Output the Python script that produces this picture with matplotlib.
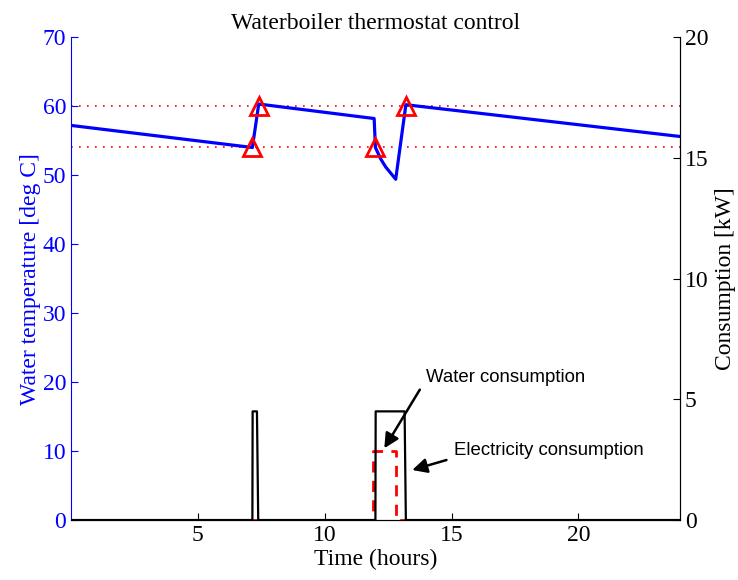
import numpy as np
import matplotlib
matplotlib.use("Agg")
from matplotlib import pyplot as plt

plt.rcParams['font.family'] = ['Liberation Serif', 'DejaVu Serif']
plt.rcParams['font.size'] = 17

# water temperature (deg C) over the day
t_temp = [0, 7.15, 7.4, 11.95, 12.0, 12.2, 12.4, 12.6, 12.8, 13.2, 24]
temp = [57.2, 54.0, 60.3, 58.2, 54.0, 52.4, 51.2, 50.3, 49.4, 60.2, 55.6]

# thermostat switching points
t_switch = [7.15, 7.4, 12.0, 13.2]
temp_switch = [54, 60, 54, 60]
t_low, t_high = 54, 60

# heater power (kW)
t_elec = [0, 7.15, 7.16, 7.33, 7.38, 12.0, 12.01, 13.15, 13.2, 24]
elec = [0, 0, 4.5, 4.5, 0, 0, 4.5, 4.5, 0, 0]

# hot water draw
t_water = [0, 11.92, 11.92, 12.83, 12.83, 24]
water = [0, 0, 10, 10, 0, 0]

fig = plt.figure(figsize=(7.38, 5.8), dpi=100)
ax = fig.add_axes([0.0962, 0.1034, 0.825, 0.8326])
ax2 = ax.twinx()

blue = '#0000ff'

ax.plot([0, 24], [t_high, t_high], color='red', lw=1.2, linestyle=(0, (1, 3.8)))
ax.plot([0, 24], [t_low, t_low], color='red', lw=1.2, linestyle=(0, (1, 3.8)))
ax.plot(t_water, water, color='red', lw=2, linestyle=(0, (4, 3)))
ax.plot(t_temp, temp, color=blue, lw=2.3)
ax.plot(t_switch, temp_switch, linestyle='none', marker='^', ms=13,
        mfc='none', mec='red', mew=2)

ax2.plot(t_elec, elec, color='black', lw=1.6)

ax.set_xlim(0, 24)
ax.set_ylim(0, 70)
ax2.set_ylim(0, 20)
ax.set_xticks([5, 10, 15, 20])
ax.set_yticks(np.arange(0, 71, 10))
ax2.set_yticks(np.arange(0, 21, 5))

ax.tick_params(axis='both', direction='in', length=5)
ax.tick_params(axis='y', colors=blue)
ax2.tick_params(axis='y', direction='in', length=5)

for a in (ax, ax2):
    a.spines['top'].set_visible(False)
ax.spines['left'].set_color(blue)
ax2.spines['left'].set_visible(False)

ax.set_title('Waterboiler thermostat control', fontsize=17, pad=6)
ax.set_xlabel('Time (hours)', labelpad=2)
ax.set_ylabel('Water temperature [deg C]', color=blue, labelpad=1)
ax2.set_ylabel('Consumption [kW]', labelpad=5)

# text arrows: arrow tail at xytext, label placed just beyond it
arrow = dict(arrowstyle='-|>', color='black', lw=1.8, mutation_scale=22,
             shrinkA=0, shrinkB=0)
ax.annotate('', xy=(12.35, 10.4), xytext=(13.75, 18.9), arrowprops=arrow)
ax.text(14.0, 20.7, 'Water consumption', family='Liberation Sans',
        fontsize=13.4, ha='left', va='center')
ax.annotate('', xy=(13.45, 7.25), xytext=(14.8, 8.7), arrowprops=arrow)
ax.text(15.1, 10.1, 'Electricity consumption', family='Liberation Sans',
        fontsize=13.4, ha='left', va='center')

fig.savefig('out.png', dpi=100)
